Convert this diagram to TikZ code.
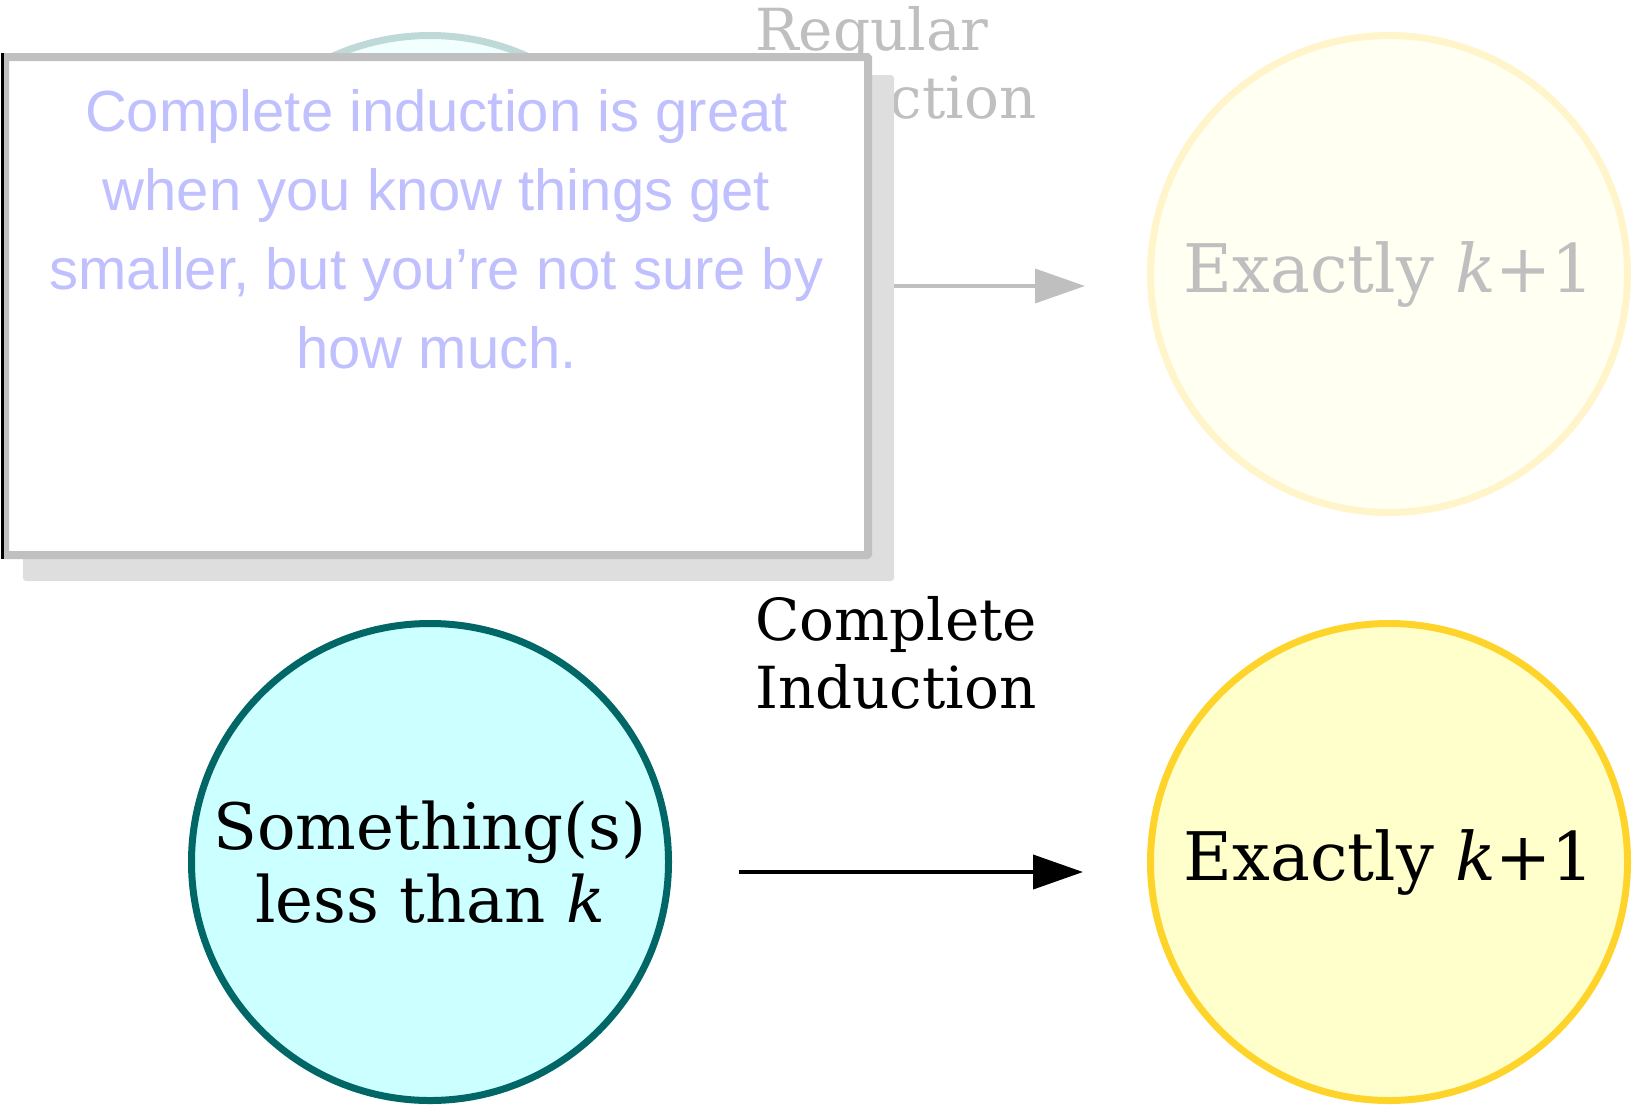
\documentclass[tikz,border=0pt]{standalone}
\usepackage{fontspec}
\setmainfont{DejaVu Serif}
\newfontfamily\notefont{Liberation Sans}
\usepackage{tikz}
\usetikzlibrary{arrows.meta, positioning}
\definecolor{tealline}{RGB}{0,102,102}
\definecolor{tealfill}{RGB}{204,255,255}
\definecolor{goldline}{RGB}{255,212,42}
\definecolor{goldfill}{RGB}{255,255,204}
\definecolor{noteink}{RGB}{192,192,255}
\definecolor{noteframe}{RGB}{192,192,192}
\definecolor{noteshadow}{RGB}{222,222,222}
\tikzstyle{blob} = [circle, minimum size=477pt, inner sep=0pt, line width=7pt, align=center, font=\fontsize{64}{73}\selectfont]
\tikzstyle{wide} = [font=\fontsize{67}{73}\selectfont]
\tikzstyle{tag} = [align=left, inner sep=0pt, anchor=base west, font=\fontsize{58}{67.5}\selectfont]
\tikzstyle{arr} = [-{Triangle[length=50pt, width=34pt]}, line width=4pt]
\begin{document}
\begin{tikzpicture}[x=1pt, y=-1pt]
  \useasboundingbox (0,0) rectangle (1637,1111);
  % Row 2 (complete induction)
  \node[blob, draw=tealline, fill=tealfill] (less) at (430,862) {Something(s)\\less than \textit{k}};
  \node[blob, wide, draw=goldline, fill=goldfill, right=475pt of less] (exact) {Exactly \textit{k}+1};
  % Row 1 (regular induction, faded)
  \node[blob, draw=tealline!25, fill=tealfill!25, above=104pt of less] (lessold) {};
  \node[blob, wide, draw=goldline!25, fill=goldfill!25, text=black!25, above=104pt of exact] (exactold) {Exactly \textit{k}+1};
  \draw[arr, black!25, line width=3.5pt, shorten <=67pt, shorten >=62pt] ([yshift=-12pt]lessold.east) -- ([yshift=-12pt]exactold.west);
  \node[tag, text=black!25] (riname) at (755,118) {Regular\\Induction};
  % Note box over row 1
  \fill[noteshadow, rounded corners=3pt] (23,75) rectangle (894,581);
  \node[draw=noteframe, fill=white, line width=8pt, rounded corners=1pt, inner sep=0pt, minimum width=863pt, minimum height=498pt] (note) at (436.5,306) {};
  \draw[line width=3pt] ([xshift=1.5pt]note.north west) -- ([xshift=1.5pt]note.south west);
  \node[align=center, inner sep=0pt, anchor=base, text=noteink, font=\fontsize{58}{78.7}\notefont] (notetxt) at (436.5,368) {Complete induction is great\\when you know things get\\smaller, but you’re not sure by\\how much.};
  % Row 2 connector
  \draw[arr, shorten <=67pt, shorten >=64pt] ([yshift=-10pt]less.east) -- ([yshift=-10pt]exact.west);
  \node[tag] (ciname) at (755,708) {Complete\\Induction};
\end{tikzpicture}
\end{document}
